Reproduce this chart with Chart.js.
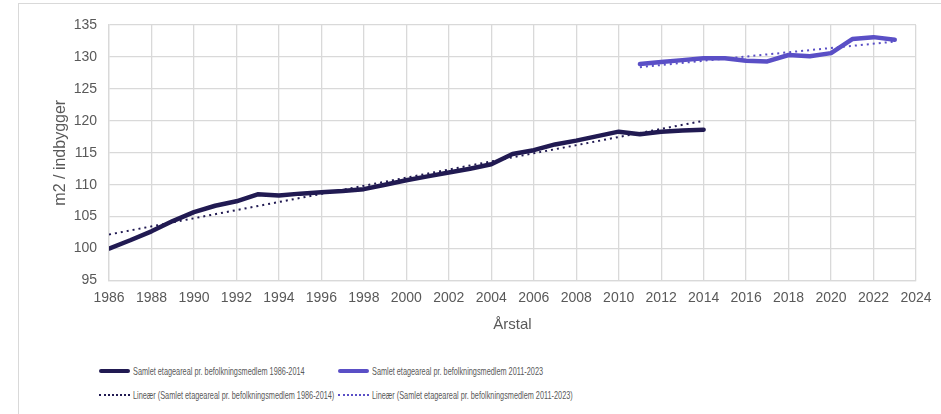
<!DOCTYPE html>
<html>
<head>
<meta charset="utf-8">
<script src="https://cdn.jsdelivr.net/npm/chart.js@4"></script>
<style>
  body { margin: 0; background: #fff; width: 941px; height: 414px; overflow: hidden; position: relative; }
  #frame { position: absolute; left: 18px; top: 3px; width: 930px; height: 420px; border: 1px solid #d9d9d9; }
  #wrap { position: absolute; left: 0; top: 0; width: 941px; height: 345px; }
  #legend { position: absolute; left: 0; top: 0; font: 11px "Liberation Sans", Arial, sans-serif; color: #595959; }
  .item { position: absolute; white-space: nowrap; display: flex; align-items: center; height: 14px; }
  .swatch { width: 31px; height: 0; margin-right: 3px; }
  .txt { display: inline-block; transform: scaleX(0.665); transform-origin: left center; }
</style>
</head>
<body>
<div id="frame"></div>
<div id="wrap"><canvas id="chart"></canvas></div>
<div id="legend"></div>
<script>
const years1 = [1986, 1987, 1988, 1989, 1990, 1991, 1992, 1993, 1994, 1995, 1996, 1997, 1998, 1999, 2000,
  2001, 2002, 2003, 2004, 2005, 2006, 2007, 2008, 2009, 2010, 2011, 2012, 2013, 2014];
const area1 = [100.0, 101.3, 102.7, 104.3, 105.7, 106.7, 107.4, 108.5, 108.3, 108.6, 108.8, 109.0, 109.3, 110.0, 110.7,
  111.3, 111.9, 112.5, 113.2, 114.8, 115.4, 116.3, 116.9, 117.6, 118.3, 117.9, 118.3, 118.5, 118.6];

const years2 = [2011, 2012, 2013, 2014, 2015, 2016, 2017, 2018, 2019, 2020, 2021, 2022, 2023];
const area2 = [128.9, 129.2, 129.5, 129.8, 129.8, 129.4, 129.3, 130.3, 130.1, 130.6, 132.8, 133.1, 132.7];

// trendline end points
const trendYears1 = [1986, 2014];
const trend1 = [102.2, 120.0];
const trendYears2 = [2011, 2023];
const trend2 = [128.4, 132.4];

const labels = [
  "Samlet etageareal pr. befolkningsmedlem 1986-2014",
  "Samlet etageareal pr. befolkningsmedlem 2011-2023",
  "Lineær (Samlet etageareal pr. befolkningsmedlem 1986-2014)",
  "Lineær (Samlet etageareal pr. befolkningsmedlem 2011-2023)",
];

const dark = "#211a52";
const purple = "#5a4fc6";
const gridColor = "#d9d9d9";
const textColor = "#595959";

const pts = (xs, ys) => xs.map((x, i) => ({ x, y: ys[i] }));

new Chart(document.getElementById("chart"), {
  type: "line",
  data: {
    datasets: [
      { label: labels[2], data: pts(trendYears1, trend1), borderColor: dark, borderWidth: 2, borderDash: [2, 4], pointRadius: 0, order: 3 },
      { label: labels[3], data: pts(trendYears2, trend2), borderColor: purple, borderWidth: 2, borderDash: [2, 4], pointRadius: 0, order: 3 },
      { label: labels[0], data: pts(years1, area1), borderColor: dark, borderWidth: 4.5, pointRadius: 0, borderJoinStyle: "round", borderCapStyle: "round", order: 1 },
      { label: labels[1], data: pts(years2, area2), borderColor: purple, borderWidth: 4.5, pointRadius: 0, borderJoinStyle: "round", borderCapStyle: "round", order: 1 },
    ],
  },
  options: {
    responsive: true,
    maintainAspectRatio: false,
    animation: false,
    layout: { padding: { left: 48, right: 25, top: 25, bottom: 0 } },
    plugins: { legend: { display: false }, tooltip: { enabled: false } },
    scales: {
      x: {
        type: "linear",
        min: 1986,
        max: 2024,
        afterFit: (s) => { s.height = 64.5; },
        ticks: { stepSize: 2, padding: 9, color: textColor, font: { family: "Liberation Sans", size: 14 }, callback: (v) => String(v) },
        grid: { color: gridColor, lineWidth: 1.3, drawTicks: false },
        border: { color: gridColor, width: 1.3 },
        title: { display: true, text: "Årstal", color: textColor, font: { family: "Liberation Sans", size: 15 }, padding: { top: 4, bottom: 11 } },
      },
      y: {
        min: 95,
        max: 135,
        afterFit: (s) => { s.width = 61; },
        ticks: { stepSize: 5, padding: 12, color: textColor, font: { family: "Liberation Sans", size: 14 } },
        grid: { color: gridColor, lineWidth: 1.3, drawTicks: false },
        border: { color: gridColor, width: 1.3 },
        title: { display: true, text: "m2 / indbygger", color: textColor, font: { family: "Liberation Sans", size: 16 }, padding: { top: 3, bottom: 4 } },
      },
    },
  },
});

// legend laid out in two columns like the original
const legendItems = [
  { text: labels[0], color: dark, dotted: false, left: 99, top: 364 },
  { text: labels[1], color: purple, dotted: false, left: 338, top: 364 },
  { text: labels[2], color: dark, dotted: true, left: 99, top: 388 },
  { text: labels[3], color: purple, dotted: true, left: 338, top: 388 },
];
const legend = document.getElementById("legend");
legend.innerHTML = legendItems.map((it) => {
  const line = it.dotted ? `border-top: 2px dotted ${it.color};` : `border-top: 4px solid ${it.color}; border-radius: 2px;`;
  return `<div class="item" style="left:${it.left}px;top:${it.top}px"><span class="swatch" style="${line}"></span><span class="txt">${it.text}</span></div>`;
}).join("");
</script>
</body>
</html>
